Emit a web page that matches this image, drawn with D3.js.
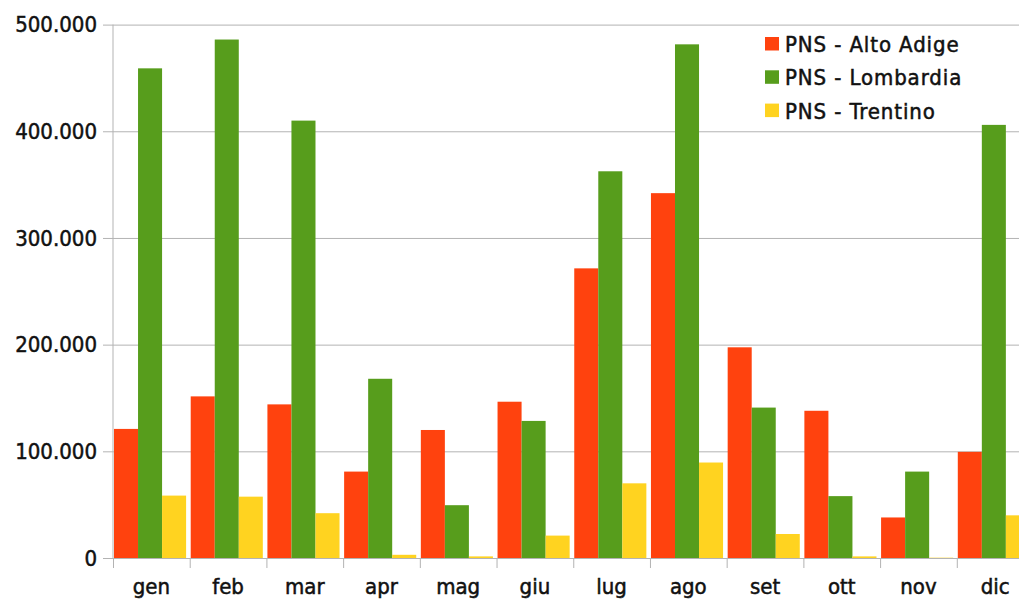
<!DOCTYPE html>
<html>
<head>
<meta charset="utf-8">
<script src="https://cdn.jsdelivr.net/npm/d3@7"></script>
<style>
  html, body { margin: 0; padding: 0; background: #fff; overflow: hidden; }
  text { font-family: "DejaVu Sans Condensed", "DejaVu Sans", sans-serif; font-stretch: condensed; fill: #111; stroke: #111; stroke-width: 0.5px; }
</style>
</head>
<body>
<div id="chart"></div>
<script>
// months and series
const months = ["gen", "feb", "mar", "apr", "mag", "giu", "lug", "ago", "set", "ott", "nov", "dic"]
const seriesNames = ["PNS - Alto Adige", "PNS - Lombardia", "PNS - Trentino"]
const altoAdige = [121000, 151500, 144000, 81000, 120000, 146500, 271500, 342000, 197500, 138000, 38000, 99500]
const lombardia = [459000, 486000, 410000, 168000, 49500, 128500, 362500, 481500, 141000, 58000, 81000, 406000]
const trentino = [58500, 57500, 42000, 3000, 1500, 21000, 70000, 89500, 22500, 1500, 300, 40000]
const yTicks = [0, 100000, 200000, 300000, 400000, 500000]
const colors = ["#ff420e", "#579d1c", "#ffd320"]

const width = 1019
const height = 599
const marginLeft = 113
const plotRight = 1033.5
const plotTop = 24.6
const plotBottom = 558

const allSeries = [altoAdige, lombardia, trentino]

// rows for the grouped bars
const rows = months.map((m, i) => ({month: m, values: allSeries.map(s => s[i])}))

const it = d3.formatLocale({decimal: ",", thousands: ".", grouping: [3], currency: ["€", ""]})
const fmt = it.format(",")

const svg = d3.select("#chart")
    .append("svg")
    .attr("width", width)
    .attr("height", height)

let x = d3.scaleBand().domain(months).range([marginLeft, plotRight]).padding(0)
let y = d3.scaleLinear().domain([0, 500000]).range([plotBottom, plotTop])

// bars sit at the left of each band, a small gap on the right
let xSub = d3.scaleBand().domain(d3.range(seriesNames.length)).range([1, 1 + x.bandwidth() * 0.94])

// horizontal grid + y axis labels
svg.append("g")
    .attr("class", "y axis")
    .attr("transform", "translate(" + marginLeft + ",0)")
    .call(d3.axisLeft(y).tickValues(yTicks).tickSize(-(width - marginLeft)).tickSizeOuter(0).tickPadding(16).tickFormat(fmt))
    .call(g => g.select(".domain").remove())
    .call(g => g.selectAll(".tick line").attr("stroke", "#b3b3b3").attr("x1", -10).attr("x2", width - marginLeft))
    .call(g => g.selectAll(".tick text").style("font-size", "22px").attr("fill", "#111"))

// vertical axis line
svg.append("line")
    .attr("x1", marginLeft).attr("x2", marginLeft)
    .attr("y1", y(500000)).attr("y2", plotBottom)
    .attr("stroke", "#b3b3b3")

// bars
svg.append("g")
    .selectAll("g")
    .data(rows)
    .enter()
    .append("g")
    .attr("transform", d => "translate(" + x(d.month) + ",0)")
    .selectAll("rect")
    .data(d => d.values)
    .enter()
    .append("rect")
    .attr("x", (d, i) => xSub(i))
    .attr("width", xSub.bandwidth())
    .attr("y", d => y(d))
    .attr("height", d => plotBottom - y(d))
    .style("fill", (d, i) => colors[i])

// x axis with ticks between the months
let xAxisG = svg.append("g")
    .attr("class", "x axis")
    .attr("transform", "translate(0," + plotBottom + ")")
    .call(d3.axisBottom(x).tickSize(0).tickPadding(20))
xAxisG.select(".domain").attr("stroke", "#b3b3b3").attr("d", "M" + marginLeft + ",0.5H" + plotRight)
xAxisG.selectAll(".tick text").style("font-size", "22px").attr("fill", "#111")
xAxisG.selectAll(".sep")
    .data(months)
    .enter()
    .append("line")
    .attr("class", "sep")
    .attr("x1", d => x(d) + 0.5).attr("x2", d => x(d) + 0.5)
    .attr("y1", 0).attr("y2", 10)
    .attr("stroke", "#b3b3b3")

// legend
let legend = svg.append("g")
    .attr("transform", "translate(765,37)")
let item = legend.selectAll("g")
    .data(seriesNames)
    .enter()
    .append("g")
    .attr("transform", (d, i) => "translate(0," + i * 33.3 + ")")
item.append("rect")
    .attr("width", 14).attr("height", 13.5)
    .style("fill", (d, i) => colors[i])
item.append("text")
    .attr("x", 20)
    .attr("y", 7)
    .attr("dy", "0.36em")
    .style("font-size", "22px")
    .style("letter-spacing", "0.9px")
    .text(d => d)
</script>
</body>
</html>
